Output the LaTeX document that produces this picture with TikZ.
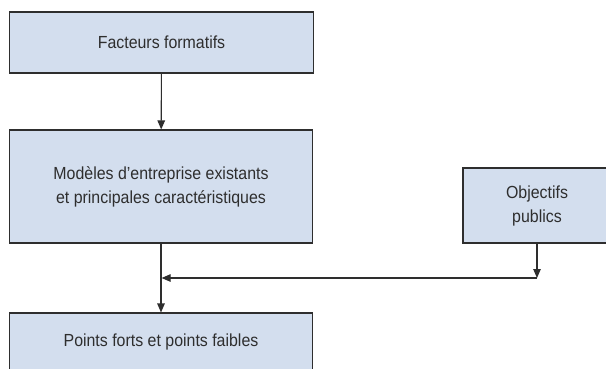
\documentclass[tikz,border=0pt]{standalone}
\usepackage{fontspec}
\setmainfont[FakeStretch=0.91]{Liberation Sans}
\usepackage{tikz}
\usetikzlibrary{arrows.meta}
\definecolor{boxfill}{HTML}{D3DEEE}
\definecolor{ink}{HTML}{2E2E2E}

\begin{document}
\begin{tikzpicture}[x=1pt,y=-1pt]
  \tikzstyle{every node}=[text=ink,font=\fontsize{17.5}{24}\selectfont,align=center]
  \tikzstyle{box}=[draw=ink,fill=boxfill,line width=1.1pt,inner sep=0pt]
  \tikzstyle{link}=[draw=ink,line width=1.1pt,-{Triangle[length=9pt,width=7.5pt]}]
  \clip (0,0) rectangle (606,368);
  \fill [white] (0,0) rectangle (606,368);
  \node [box,minimum width=304pt,minimum height=61pt] (facteurs) at (161.5,42.5) {Facteurs formatifs};
  \node [box,minimum width=303pt,minimum height=113pt] (modeles) at (161,186.5)
    {Mod\`eles d'entreprise existants\\et principales caract\'eristiques};
  \node [box,minimum width=148pt,minimum height=75pt] (objectifs) at (537,205.5) {Objectifs\\publics};
  \node [box,minimum width=303pt,minimum height=57pt] (points) at (161,341.5) {Points forts et points faibles};
  \coordinate (turn) at (objectifs.south |- 0,278);
  \coordinate (join) at (modeles.south |- turn);
  \draw [link] (facteurs) -- (modeles);
  \draw [link] (modeles) -- (points);
  \draw [link] (objectifs) -- (turn);
  \draw [link,shorten >=0.6pt] (turn) -- (join);
\end{tikzpicture}
\end{document}
